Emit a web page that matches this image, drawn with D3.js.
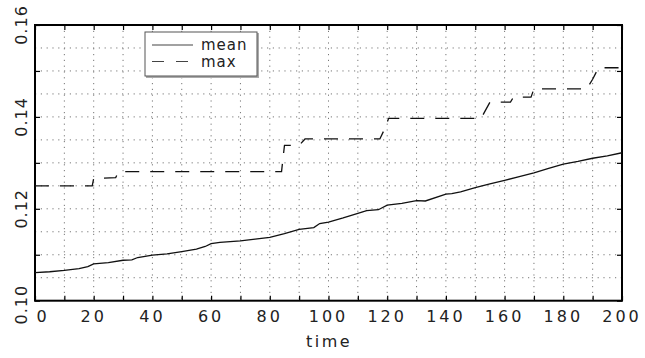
<!DOCTYPE html>
<html><head><meta charset="utf-8">
<script src="https://cdn.jsdelivr.net/npm/d3@7"></script>
<style>html,body{margin:0;padding:0;background:#fff}</style>
</head><body>
<svg id="c" width="645" height="358"></svg>
<script>
// ---- data ----
const meanTime = [0,5,10,15,18,20,25,30,33,35,40,45,50,55,58,60,63,70,75,80,85,90,95,97,100,105,110,113,117,120,125,130,133,140,142,145,150,155,160,165,170,175,180,185,190,195,200];
const meanValues = [0.1061,0.1063,0.1066,0.1070,0.1074,0.1080,0.1083,0.1088,0.1089,0.1094,0.1099,0.1102,0.1107,0.1112,0.1118,0.1124,0.1127,0.1130,0.1134,0.1138,0.1146,0.1155,0.1159,0.1168,0.1171,0.1180,0.1190,0.1196,0.1198,0.1208,0.1212,0.1218,0.1217,0.1232,0.1233,0.1237,0.1246,0.1254,0.1262,0.1270,0.1278,0.1288,0.1297,0.1303,0.1310,0.1315,0.1322];
const maxTime = [0,19.5,20,27.5,28.5,84,85,90,92,117.5,119,120.5,152,155,162,163,169,170,188,190,192,200];
const maxValues = [0.1250,0.1250,0.1266,0.1268,0.1281,0.1281,0.1338,0.1338,0.1352,0.1352,0.1372,0.1397,0.1397,0.1432,0.1432,0.1443,0.1443,0.1461,0.1461,0.1482,0.1507,0.1507];
const xTickValues = [0,10,20,30,40,50,60,70,80,90,100,110,120,130,140,150,160,170,180,190,200];
const xTickLabels = ["0","20","40","60","80","100","120","140","160","180","200"];
const yTickValues = [0.10,0.11,0.12,0.13,0.14,0.15,0.16];
const yTickLabels = ["0.10","0.12","0.14","0.16"];
const seriesNames = ["mean","max"];
const xTitle = "time";

// ---- layout ----
const svg = d3.select("#c");
const L = 35, R = 622, T = 25, B = 300.7;
const x = d3.scaleLinear().domain([0,200]).range([L,R]);
const y = d3.scaleLinear().domain([0.10,0.16]).range([B,T]);
const font = "'DejaVu Sans', sans-serif";

// grid
const g = svg.append("g");
g.selectAll("line.gx").data(d3.range(10,200,10)).join("line")
  .attr("x1",d=>x(d)).attr("x2",d=>x(d)).attr("y1",T).attr("y2",B)
  .attr("stroke","#777").attr("stroke-width",1).attr("stroke-dasharray","1.2,4.6");
g.selectAll("line.gy").data(d3.range(1,12).map(i=>0.10+i*0.005)).join("line")
  .attr("x1",L).attr("x2",R).attr("y1",d=>y(d)).attr("y2",d=>y(d))
  .attr("stroke","#777").attr("stroke-width",1).attr("stroke-dasharray","1.2,4.6");

// axes (ticks inward)
function styleAxis(sel){ sel.select(".domain").remove(); sel.selectAll(".tick line").attr("stroke","#000").attr("stroke-width",1.2); sel.selectAll(".tick text").remove(); }
svg.append("g").attr("transform",`translate(0,${B})`).call(d3.axisBottom(x).tickValues(xTickValues).tickSizeInner(-5).tickSizeOuter(0)).call(styleAxis);
svg.append("g").attr("transform",`translate(0,${T})`).call(d3.axisTop(x).tickValues(xTickValues).tickSizeInner(-5).tickSizeOuter(0)).call(styleAxis);
svg.append("g").attr("transform",`translate(${L},0)`).call(d3.axisLeft(y).tickValues(yTickValues).tickSizeInner(-5).tickSizeOuter(0)).call(styleAxis);
svg.append("g").attr("transform",`translate(${R},0)`).call(d3.axisRight(y).tickValues(yTickValues).tickSizeInner(-5).tickSizeOuter(0)).call(styleAxis);

// frame
svg.append("rect").attr("x",L).attr("y",T).attr("width",R-L).attr("height",B-T)
  .attr("fill","none").attr("stroke","#000").attr("stroke-width",2);

// lines
const meanData = meanTime.map((t,i)=>[t,meanValues[i]]);
const maxData = maxTime.map((t,i)=>[t,maxValues[i]]);
const line = d3.line().x(d=>x(d[0])).y(d=>y(d[1]));
svg.append("path").datum(meanData).attr("d",line).attr("fill","none").attr("stroke","#111").attr("stroke-width",1.3);
svg.append("path").datum(maxData).attr("d",line).attr("fill","none").attr("stroke","#111").attr("stroke-width",1.3).attr("stroke-dasharray","14,11");

// x labels
svg.selectAll("text.xl").data(xTickLabels).join("text")
  .attr("x",d=>x(+d)+(+d===0?8:0)).attr("y",322)
  .attr("text-anchor","middle").attr("font-family",font).attr("font-size",16)
  .attr("letter-spacing","3px").attr("fill","#222").text(d=>d);
// y labels rotated
svg.selectAll("text.yl").data(yTickLabels).join("text")
  .attr("transform",d=>`translate(27,${y(+d)+(+d===0.10?4:0)}) rotate(-90)`)
  .attr("text-anchor","middle").attr("font-family",font).attr("font-size",16)
  .attr("letter-spacing","1px").attr("fill","#222").text(d=>d);
// x title
svg.append("text").attr("x",329).attr("y",347).attr("text-anchor","middle")
  .attr("font-family",font).attr("font-size",16).attr("letter-spacing","2.5px").attr("fill","#222").text(xTitle);

// legend
const lg = svg.append("g");
lg.append("rect").attr("x",146).attr("y",33).attr("width",113).attr("height",45).attr("fill","#aaa");
lg.append("rect").attr("x",145).attr("y",32).attr("width",112).attr("height",44).attr("fill","#fff").attr("stroke","#555").attr("stroke-width",1);
const ly = [45,61.5];
seriesNames.forEach((n,i)=>{
  lg.append("line").attr("x1",152).attr("x2",193).attr("y1",ly[i]).attr("y2",ly[i])
    .attr("stroke","#444").attr("stroke-width",1.2).attr("stroke-dasharray",i===1?"12,12":null);
  lg.append("text").attr("x",201).attr("y",ly[i]+5).attr("font-family",font).attr("font-size",15)
    .attr("letter-spacing","1px").attr("fill","#222").text(n);
});
</script>
</body></html>
